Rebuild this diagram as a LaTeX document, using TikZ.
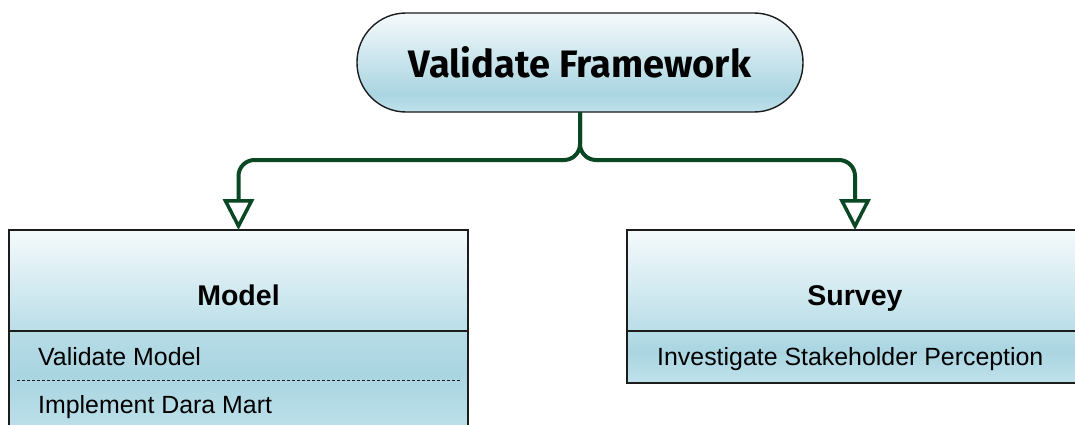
\documentclass[tikz,border=0pt]{standalone}
\usepackage{fontspec}
\setmainfont{Liberation Sans}
\newfontfamily\titlefont{Fira Sans}
\usetikzlibrary{arrows.meta}

\definecolor{linkgreen}{RGB}{10,72,36}
\definecolor{framegray}{RGB}{28,28,28}
\definecolor{paleblue}{RGB}{245,250,252}
\definecolor{midblue}{RGB}{169,213,225}
\definecolor{softblue}{RGB}{192,226,235}
\definecolor{headblue}{RGB}{186,222,232}

% light at the top, deepest just above the bottom edge
\pgfdeclareverticalshading{pillshade}{100bp}{%
  color(0bp)=(softblue); color(25bp)=(softblue);
  color(34bp)=(midblue); color(75bp)=(paleblue); color(100bp)=(paleblue)}
\pgfdeclareverticalshading{rowshade}{100bp}{%
  color(0bp)=(softblue); color(25bp)=(softblue);
  color(55bp)=(midblue); color(75bp)=(headblue!80!midblue); color(100bp)=(headblue!80!midblue)}

\begin{document}
\begin{tikzpicture}[x=1pt,y=-1pt,
  pill/.style={draw=framegray, line width=1.4pt, shading=pillshade,
    rounded corners=49pt, minimum width=446pt, minimum height=99pt,
    inner sep=0pt, outer sep=0pt},
  headbox/.style={draw=framegray, line width=1.5pt, top color=paleblue,
    bottom color=headblue, inner sep=0pt, outer sep=0pt},
  rowbox/.style={draw=framegray, line width=1.5pt, shading=rowshade,
    inner sep=0pt, outer sep=0pt},
  classname/.style={anchor=base, font=\bfseries\fontsize{28.5}{32}\selectfont},
  member/.style={anchor=base west, inner sep=0pt, font=\fontsize{24.9}{28}\selectfont},
  link/.style={draw=linkgreen, line width=4pt, rounded corners=16pt,
    -{Triangle[open, length=31pt, width=31pt, line width=3.5pt]}}
]
\useasboundingbox (0,0) rectangle (1075,424);
\clip (0,0) rectangle (1075,424);

% root
\node[pill] (root) at (580,62.5)
  {\resizebox{342pt}{31pt}{\titlefont\bfseries Validate Framework}};

% left class: Model
\node[headbox, minimum width=459pt, minimum height=101pt] (modelHead) at (238.5,280.5) {};
\node[rowbox, minimum width=459pt, minimum height=109pt] (modelRows) at (238.5,385.5) {};
\node[classname] (modelName) at (238.5,305) {Model};
\node[member] (modelRowA) at (38,365) {Validate Model};
\node[member] (modelRowB) at (38,413) {Implement Dara Mart};
\draw[framegray, line width=0.8pt, dash pattern=on 3pt off 2pt] (17,380) -- (461,380);

% right class: Survey
\node[headbox, minimum width=456pt, minimum height=101pt] (surveyHead) at (855,280.5) {};
\node[rowbox, minimum width=456pt, minimum height=52pt] (surveyRows) at (855,357) {};
\node[classname] (surveyName) at (855,305) {Survey};
\node[member] (surveyRowA) at (657,365) {Investigate Stakeholder Perception};

% connectors
\coordinate (fork) at (580,160);
\draw[link] (root.south) -- (fork) -| (modelHead.north);
\draw[link] (root.south) -- (fork) -| (surveyHead.north);
\end{tikzpicture}
\end{document}
